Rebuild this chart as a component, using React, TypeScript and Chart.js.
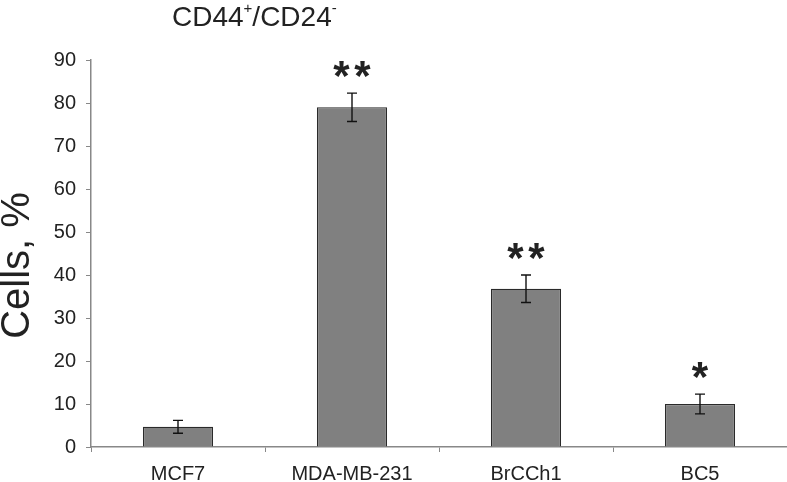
import React, { useEffect, useRef } from "react";
import { Chart, registerables } from "chart.js";

Chart.register(...registerables);

const categories = ["MCF7", "MDA-MB-231", "BrCCh1", "BC5"];
const values = [4.7, 79.0, 36.8, 10.0];
const errors = [1.5, 3.3, 3.2, 2.3];
const significance = ["", "**", "**", "*"];
const yTicks = [0, 10, 20, 30, 40, 50, 60, 70, 80, 90];
const yTitle = "Cells, %";

const FONT = "'Liberation Sans', Arial, sans-serif";

const overlayPlugin = {
  id: "overlay",
  afterDatasetsDraw(chart: any) {
    const ctx = chart.ctx;
    const meta = chart.getDatasetMeta(0);
    const y = chart.scales.y;
    const area = chart.chartArea;
    ctx.save();
    meta.data.forEach((bar: any, i: number) => {
      const x = bar.x;
      const top = y.getPixelForValue(values[i] + errors[i]);
      const bot = y.getPixelForValue(values[i] - errors[i]);
      ctx.strokeStyle = "#111";
      ctx.lineWidth = 1.4;
      ctx.beginPath();
      ctx.moveTo(x, top);
      ctx.lineTo(x, bot);
      ctx.moveTo(x - 5, top);
      ctx.lineTo(x + 5, top);
      ctx.moveTo(x - 5, bot);
      ctx.lineTo(x + 5, bot);
      ctx.stroke();
      const s = significance[i];
      if (s) {
        ctx.fillStyle = "#222";
        ctx.font = `bold 42px ${FONT}`;
        ctx.textAlign = "center";
        ctx.textBaseline = "alphabetic";
        const m = ctx.measureText("*");
        const centerY = top - 24;
        const baseY = centerY + (m.actualBoundingBoxAscent - m.actualBoundingBoxDescent) / 2;
        const gap = 21;
        const n = s.length;
        for (let k = 0; k < n; k++) {
          const cx = x + (k - (n - 1) / 2) * gap;
          ctx.fillText("*", cx, baseY);
        }
      }
    });
    // Title with superscripts
    const parts: [string, boolean][] = [
      ["CD44", false],
      ["+", true],
      ["/CD24", false],
      ["-", true],
    ];
    let tx = area.left + 81;
    const base = 26;
    ctx.textAlign = "left";
    ctx.textBaseline = "alphabetic";
    ctx.fillStyle = "#222";
    for (const [t, sup] of parts) {
      ctx.font = sup ? `15px ${FONT}` : `28px ${FONT}`;
      ctx.fillText(t, tx, sup ? base - 13 : base);
      tx += ctx.measureText(t).width;
    }
    // Y axis title
    ctx.save();
    ctx.translate(18, (area.top + area.bottom) / 2 + 12);
    ctx.rotate(-Math.PI / 2);
    ctx.font = `40px ${FONT}`;
    ctx.textAlign = "center";
    ctx.textBaseline = "middle";
    ctx.fillStyle = "#222";
    ctx.fillText(yTitle, 0, 0);
    ctx.restore();
    ctx.restore();
  },
};

export default function App() {
  const ref = useRef<HTMLCanvasElement>(null);
  useEffect(() => {
    const chart = new Chart(ref.current!, {
      type: "bar",
      data: {
        labels: categories,
        datasets: [
          {
            data: values,
            backgroundColor: "#808080",
            borderColor: "#2a2a2a",
            borderWidth: 1.2,
            categoryPercentage: 1,
            barPercentage: 0.403,
          },
        ],
      },
      options: {
        animation: false,
        responsive: false,
        layout: { padding: { top: 60, right: 0, left: 0, bottom: 0 } },
        plugins: { legend: { display: false }, tooltip: { enabled: false } },
        scales: {
          x: {
            grid: {
              offset: true,
              drawOnChartArea: false,
              tickLength: 5,
              color: "#888",
            },
            border: { color: "#888", width: 1.5 },
            ticks: { color: "#222", font: { family: FONT, size: 20 }, padding: 10 },
            afterFit: (s: any) => {
              s.height = 35;
            },
          },
          y: {
            min: 0,
            max: 90,
            afterBuildTicks: (s: any) => {
              s.ticks = yTicks.map((v) => ({ value: v }));
            },
            grid: { drawOnChartArea: false, tickLength: 5, color: "#888" },
            border: { color: "#888", width: 1.5 },
            ticks: { color: "#222", font: { family: FONT, size: 20 }, padding: 10 },
            afterFit: (s: any) => {
              s.width = 91;
            },
          },
        },
      },
      plugins: [overlayPlugin],
    });
    return () => chart.destroy();
  }, []);
  return (
    <div style={{ position: "fixed", left: 0, top: 0, width: 787, height: 482, background: "#fff" }}>
      <canvas ref={ref} width={787} height={482} />
    </div>
  );
}
